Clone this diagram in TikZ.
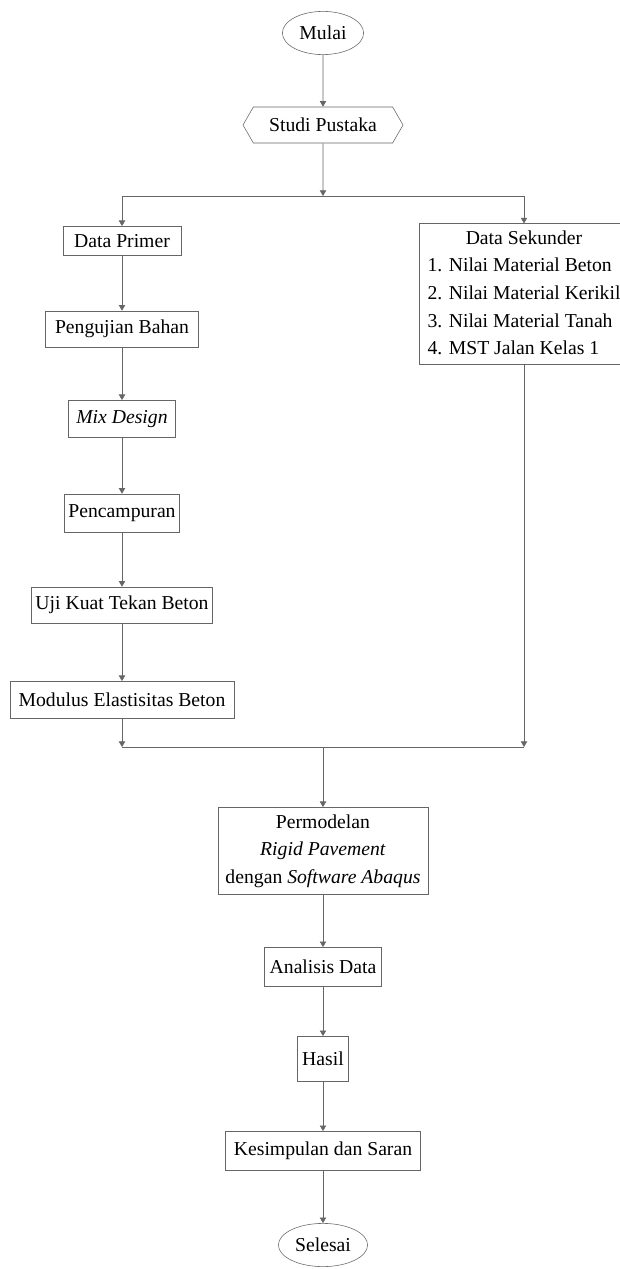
\documentclass[tikz,border=0pt]{standalone}
\usepackage{fontspec}
\setmainfont{Liberation Serif}
\usetikzlibrary{shapes.geometric,shapes.symbols,arrows.meta}

\newcommand{\sekunderlist}{%
  \begin{tabular}{@{}l@{}}
    \multicolumn{1}{c}{Data Sekunder}\\
    1. Nilai Material Beton\\
    2. Nilai Material Kerikil\\
    3. Nilai Material Tanah\\
    4. MST Jalan Kelas 1
  \end{tabular}}

\begin{document}
\begin{tikzpicture}[x=0.025cm,y=-0.025cm,
  font=\fontsize{14}{19.6}\selectfont]

\tikzstyle{every node}=[inner sep=1pt]
\tikzstyle{terminal}=[draw=black!60,ellipse,inner sep=0pt]
\tikzstyle{process}=[draw=black!60,rectangle,inner sep=2pt]
\tikzstyle{flow}=[draw=black!60,line width=0.5pt]
\tikzstyle{arrow}=[flow,-{Triangle[length=4pt,width=4.5pt]}]

\useasboundingbox (0,0) rectangle (619,1269);

\node[terminal,minimum width=2.03cm,minimum height=1.08cm](mulai) at (323,33){Mulai};
\node[draw=black!60,signal,signal to=west and east,signal pointer angle=120,
  minimum width=4cm,minimum height=0.9cm,inner sep=0pt](studi) at (323,125){Studi Pustaka};

\coordinate (split) at (323,196);
\coordinate (splitl) at (122,196);
\coordinate (splitr) at (524,196);

\node[process,minimum width=2.95cm,minimum height=0.73cm](primer) at (122,241){Data Primer};
\node[process,minimum width=3.83cm,minimum height=0.9cm](uji) at (122,329){Pengujian Bahan};
\node[process,minimum width=2.68cm,minimum height=0.93cm](mix) at (122,419){\textit{Mix Design}};
\node[process,minimum width=2.88cm,minimum height=0.95cm](campur) at (122,513){Pencampuran};
\node[process,minimum width=4.53cm,minimum height=0.9cm](tekan) at (122,605){Uji Kuat Tekan Beton};
\node[process,minimum width=5.6cm,minimum height=0.93cm](modulus) at (122,700){Modulus Elastisitas Beton};

\node[process,minimum width=5.25cm,minimum height=3.45cm,inner sep=1pt](sekunder) at (524,294){\sekunderlist};

\coordinate (merge) at (323,747);
\coordinate (mergel) at (122,747);
\coordinate (merger) at (524,747);

\node[process,align=center,minimum width=5.25cm,minimum height=2.18cm](model) at (323,851)
  {Permodelan\\ \textit{Rigid Pavement}\\ dengan \textit{Software Abaqus}};
\node[process,minimum width=2.93cm,minimum height=0.98cm](analisis) at (323,967){Analisis Data};
\node[process,minimum width=1.28cm,minimum height=1.13cm](hasil) at (323,1059){Hasil};
\node[process,minimum width=4.88cm,minimum height=0.98cm](simpul) at (323,1151){Kesimpulan dan Saran};
\node[terminal,minimum width=2.23cm,minimum height=1.08cm](selesai) at (323,1245){Selesai};

\draw[arrow] (mulai) -- (studi);
\draw[arrow] (studi) -- (split);
\draw[flow] (splitl) -- (splitr);
\draw[arrow] (splitl) -- (primer);
\draw[arrow] (splitr) -- (sekunder);

\draw[arrow] (primer) -- (uji);
\draw[arrow] (uji) -- (mix);
\draw[arrow] (mix) -- (campur);
\draw[arrow] (campur) -- (tekan);
\draw[arrow] (tekan) -- (modulus);
\draw[arrow] (modulus) -- (mergel);
\draw[arrow] (sekunder) -- (merger);
\draw[flow] (mergel) -- (merger);

\draw[arrow] (merge) -- (model);
\draw[arrow] (model) -- (analisis);
\draw[arrow] (analisis) -- (hasil);
\draw[arrow] (hasil) -- (simpul);
\draw[arrow] (simpul) -- (selesai);

\end{tikzpicture}
\end{document}
